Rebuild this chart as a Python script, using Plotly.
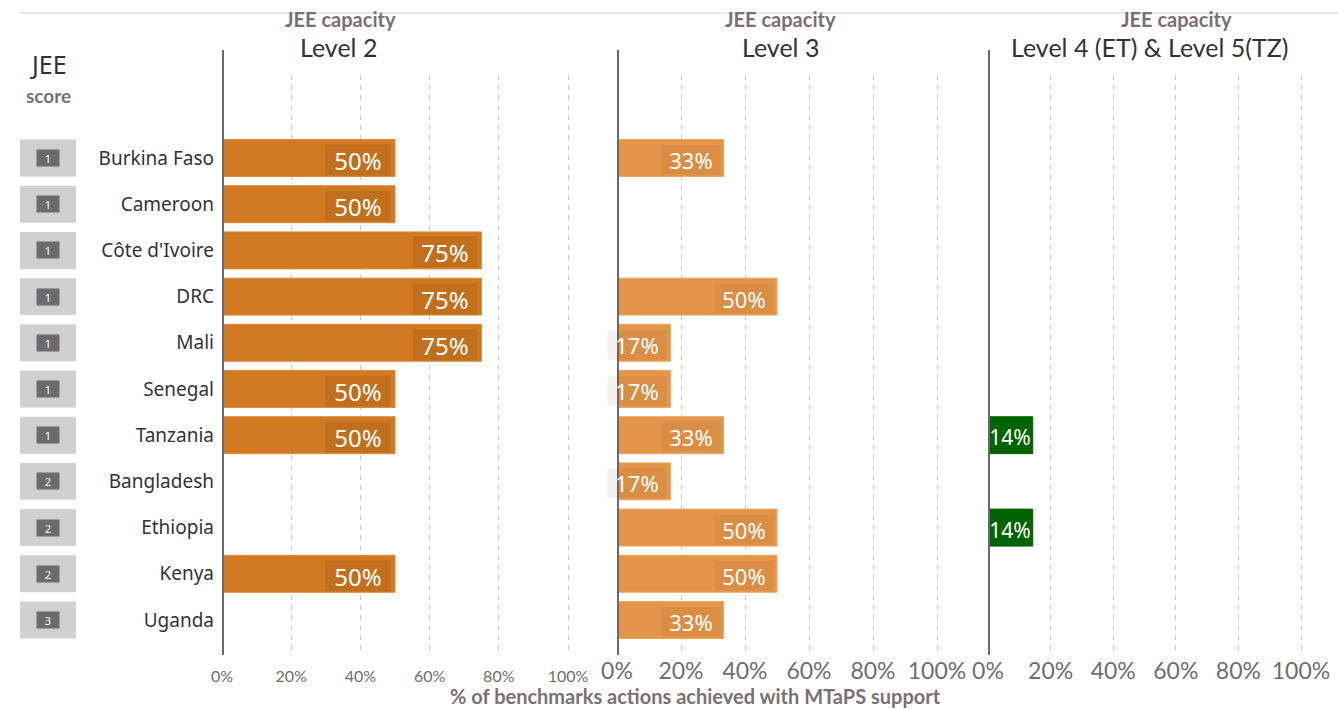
import plotly.graph_objects as go

W, H = 1338, 709

countries = ["Burkina Faso", "Cameroon", "Côte d'Ivoire", "DRC", "Mali", "Senegal",
             "Tanzania", "Bangladesh", "Ethiopia", "Kenya", "Uganda"]
jee_score = [1, 1, 1, 1, 1, 1, 1, 2, 2, 2, 3]
level2 = [50, 50, 75, 75, 75, 50, 50, None, None, 50, None]
level3 = [33.3, None, None, 50, 16.7, 16.7, 33.3, 16.7, 50, 50, 33.3]
level45 = [None, None, None, None, None, None, 14.3, None, 14.3, None, None]
tick_vals = [0, 20, 40, 60, 80, 100]
tick_text = ["0%", "20%", "40%", "60%", "80%", "100%"]
panel_titles = ["Level 2", "Level 3", "Level 4 (ET) & Level 5(TZ)"]


def px(x):
    return x / W


def py(y):
    return 1 - y / H


GILL = "Lato, 'Open Sans', sans-serif"
SEGOE = "'Noto Sans', 'Open Sans', sans-serif"

fig = go.Figure()

# JEE score background boxes
fig.add_trace(go.Bar(
    x=[1] * len(countries), y=countries, orientation="h", xaxis="x4", yaxis="y",
    marker=dict(color="#d0d0d0", line=dict(width=0)), width=0.8,
    hoverinfo="skip", showlegend=False))

colors = ["#d17a22", "#e3964a", "#006400"]
lines = ["#dd8a3a", "#eaa660", "#006400"]
series = [level2, level3, level45]
axes = ["x", "x2", "x3"]
for s, c, lc, ax in zip(series, colors, lines, axes):
    fig.add_trace(go.Bar(
        x=s, y=countries, orientation="h", xaxis=ax, yaxis="y",
        marker=dict(color=c, line=dict(color=lc, width=1)), width=0.8,
        hovertemplate="%{y}: %{x:.0f}%<extra></extra>", showlegend=False))

annotations = []
# score labels
for c, sc in zip(countries, jee_score):
    annotations.append(dict(
        x=0.5, y=c, xref="x4", yref="y", text=str(sc), showarrow=False,
        xanchor="center", yanchor="middle",
        font=dict(family=SEGOE, size=11, color="white"),
        bgcolor="#6b6b6b", width=22, height=16, borderpad=0))

# bar value labels
label_cfg = [
    dict(ax="x", bg="rgba(90,40,0,0.13)", w=64, h=30, size=24, shift=-4),
    dict(ax="x2", bg="rgba(90,40,0,0.07)", w=58, h=28, size=22, shift=-3),
    dict(ax="x3", bg="rgba(0,0,0,0)", w=44, h=28, size=21, shift=0),
]
for s, cfg in zip(series, label_cfg):
    for c, v in zip(countries, s):
        if v is None:
            continue
        annotations.append(dict(
            x=v, y=c, xref=cfg["ax"], yref="y", text=f"{round(v)}%",
            showarrow=False, xanchor="right", yanchor="middle",
            xshift=cfg["shift"], yshift=-2,
            font=dict(family=SEGOE, size=cfg["size"], color="white"),
            bgcolor=cfg["bg"], width=cfg["w"], height=cfg["h"], borderpad=0))

# panel headers
header_x = [341, 781, 1176]
level_x = [338, 781, 1150]
for hx, lx, t in zip(header_x, level_x, panel_titles):
    annotations.append(dict(
        x=px(hx), y=py(19), xref="paper", yref="paper", text="<b>JEE capacity</b>",
        xanchor="center", yanchor="middle",
        showarrow=False, font=dict(family=GILL, size=20, color="#7b7070")))
    annotations.append(dict(
        x=px(lx), y=py(47), xref="paper", yref="paper", text=t,
        xanchor="center", yanchor="middle",
        showarrow=False, font=dict(family=GILL, size=25, color="#333333")))

annotations.append(dict(
    x=px(48), y=py(64), xref="paper", yref="paper", text="JEE",
    xanchor="center", yanchor="middle",
    showarrow=False, font=dict(family=SEGOE, size=25, color="#333333")))
annotations.append(dict(
    x=px(48), y=py(95), xref="paper", yref="paper", text="<b>score</b>",
    xanchor="center", yanchor="middle",
    showarrow=False, font=dict(family=GILL, size=19, color="#7b7070")))
annotations.append(dict(
    x=px(695), y=py(696), xref="paper", yref="paper",
    text="<b>% of benchmarks actions achieved with MTaPS support</b>",
    xanchor="center", yanchor="middle",
    showarrow=False, font=dict(family=GILL, size=20, color="#7b7070")))

shapes = [dict(type="line", xref="paper", yref="paper", x0=px(20), x1=1,
               y0=py(13), y1=py(13), line=dict(color="#d0d0d0", width=1))]
for ax in axes:
    shapes.append(dict(type="line", xref=ax, yref="paper", x0=0, x1=0,
                       y0=py(655), y1=py(50), line=dict(color="#6e6767", width=4),
                       layer="above"))

XMAX = 101
doms = [(222, 568), (617, 937), (988, 1301)]
tick_sizes = [16, 23, 23]
standoffs = [10, 0, 0]


def xaxis(dom, size, standoff):
    end = dom[0] + (dom[1] - dom[0]) * XMAX / 100
    return dict(domain=[px(dom[0]), px(end)], range=[0, XMAX], anchor="y",
                tickvals=tick_vals, ticktext=tick_text, showgrid=True,
                gridcolor="#c8c8c8", griddash="5px,5px", gridwidth=1,
                zeroline=False, showline=False, ticks="", automargin=False,
                ticklabelstandoff=standoff,
                tickfont=dict(family=GILL, size=size, color="#756b6b"),
                fixedrange=True)


fig.update_layout(
    width=W, height=H, margin=dict(l=0, r=0, t=0, b=0, autoexpand=False),
    paper_bgcolor="white", plot_bgcolor="white",
    xaxis=xaxis(doms[0], tick_sizes[0], standoffs[0]),
    xaxis2=xaxis(doms[1], tick_sizes[1], standoffs[1]),
    xaxis3=xaxis(doms[2], tick_sizes[2], standoffs[2]),
    xaxis4=dict(domain=[px(20), px(76)], range=[0, 1], anchor="y", visible=False,
                automargin=False, fixedrange=True),
    yaxis=dict(domain=[py(655), py(75)], range=[10.758, -1.797], anchor="x",
               type="category", categoryorder="array", categoryarray=countries,
               showgrid=False, zeroline=False, showline=False, ticks="",
               ticklabelstandoff=7, automargin=False,
               tickfont=dict(family=SEGOE, size=19, color="#333333"),
               fixedrange=True),
    barmode="overlay",
    annotations=annotations, shapes=shapes,
)

fig.write_html("out.html")
